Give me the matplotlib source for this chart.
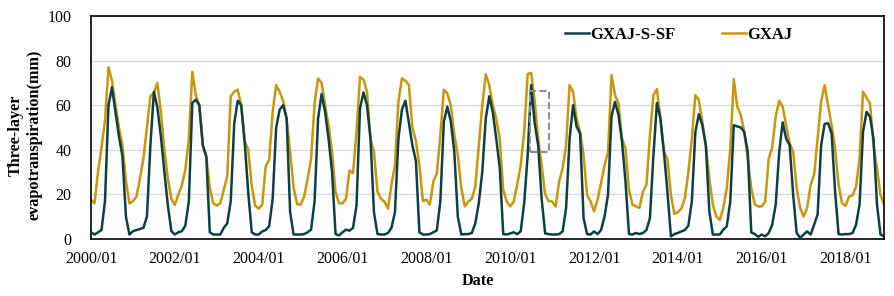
import numpy as np
import matplotlib
matplotlib.use("Agg")
import matplotlib.pyplot as plt
from matplotlib.patches import Rectangle

plt.rcParams['font.family'] = ['Liberation Serif', 'DejaVu Serif']

# monthly three-layer evapotranspiration (mm), 2000/01 - 2018/12
gxaj = [
    17.5, 16, 30, 41, 53, 77, 71, 60, 50, 42, 26, 16,            # 2000
    17, 19, 27, 36, 50, 64, 65.5, 70, 57, 40, 27, 18,            # 2001
    15.3, 20, 24, 31, 45, 75, 64.5, 60, 42, 37, 23, 16,          # 2002
    15, 16, 22, 28, 64, 66, 67, 60, 44, 40, 24, 15,              # 2003
    13.6, 15.4, 32.5, 35.5, 57, 69, 66, 62, 54, 39, 23, 15.6,    # 2004
    15.4, 19, 27, 36, 61, 72, 70, 60, 51, 39, 21, 16,            # 2005
    16, 18, 30.7, 29.5, 48, 72.7, 71.5, 66, 45, 39, 21.3, 18,    # 2006
    16.8, 13.6, 24.3, 33, 61.5, 72, 71, 69, 50, 44, 33, 17,      # 2007
    17.6, 15.4, 25.8, 29.5, 46.6, 67, 65.3, 60, 46.6, 37.7, 22.8, 14.6,  # 2008
    16.8, 18, 23.5, 42, 60, 73.8, 69, 60, 54, 45, 22, 16.8,      # 2009
    14.6, 16.8, 24.3, 33, 48, 74, 74.5, 62, 45, 33, 20, 17,      # 2010
    16.8, 14.6, 25.8, 31.7, 42, 69, 66, 54, 48, 37.7, 19.8, 16.8,  # 2011
    12.4, 17.6, 25, 33, 39, 73.5, 64.5, 60.8, 45, 40.7, 22, 15.4,  # 2012
    14.6, 13.9, 21.3, 24.3, 46.6, 64.5, 67.2, 54, 39, 36, 19.8, 11.2,  # 2013
    12, 13.6, 18.3, 30, 45, 64.5, 62.3, 52.6, 42, 27.3, 15.4, 10.1,  # 2014
    8.6, 13.9, 22.8, 40.7, 71.7, 59.3, 55.6, 48, 36, 22.8, 15.6, 14.6,  # 2015
    14.6, 16.8, 36, 41, 55, 62, 59.3, 51, 43, 39, 22.8, 13.9,    # 2016
    10.1, 13.9, 24.3, 28.8, 45, 61.5, 69, 60, 51, 40.7, 24.3, 16,  # 2017
    14.9, 19, 19.5, 23.5, 36, 66, 63.3, 60.8, 42, 31.7, 19.8, 15.4,  # 2018
]

gxaj_s_sf = [
    3, 2, 3, 4, 17, 60, 68, 57, 46, 37, 10, 2,                   # 2000
    3.5, 4, 4.5, 5, 10, 42, 66, 59, 46, 30, 15, 3.5,             # 2001
    2, 3, 3.5, 6, 17, 61, 62.5, 60, 42, 37, 3, 2,                # 2002
    2, 2, 5, 7, 17, 52, 62, 60, 43, 21, 3, 2,                    # 2003
    2, 3.4, 4, 5.7, 18, 50, 58, 60, 54, 12, 2, 2,                # 2004
    2, 2.2, 3, 4.2, 17, 54, 65, 57, 45, 30, 2.2, 1.6,            # 2005
    3, 4.2, 3.7, 5, 15, 58.6, 65.7, 60, 45, 12, 2.2, 2,          # 2006
    2, 2.7, 5, 12, 45, 58, 62, 52, 42, 35, 3, 2,                 # 2007
    2, 2.2, 3, 3.9, 17, 52.6, 59.3, 52.6, 39, 10, 2, 2.2,        # 2008
    2.2, 2.7, 7, 16, 30, 54, 64, 57, 45, 32, 2.2, 2,             # 2009
    2.5, 3, 2.2, 3.4, 16, 37.7, 69, 52, 42, 18, 2.5, 2.2,        # 2010
    2, 2, 2.2, 3.4, 13.9, 45, 60, 50.4, 47.4, 9.4, 2.2, 2,       # 2011
    3.4, 2.2, 4, 10, 20, 55, 61.5, 55.6, 43.7, 25.8, 2.2, 2,     # 2012
    2.7, 2.2, 2.7, 4, 9.4, 37.7, 61, 54, 39, 21.3, 1.2, 2.2,     # 2013
    2.7, 3.4, 4, 6, 17, 48, 56, 51, 42, 12.4, 2, 2,              # 2014
    2, 4.2, 5.7, 17, 51, 50.5, 50, 48, 39, 3, 2.2, 1,            # 2015
    2, 1.2, 2.7, 6.4, 15.4, 39, 52.3, 45, 42, 19.8, 2.7, 0.5,    # 2016
    2, 3.4, 2, 6.4, 11, 42, 51.6, 51.9, 47.4, 21.3, 2.2, 2,      # 2017
    2.2, 2.2, 2.7, 6.4, 15.4, 48, 57, 54.8, 45, 15.4, 2, 1.2,    # 2018
]

tick_labels = [f"{y}/01" for y in range(2000, 2019, 2)]

months = np.arange(len(gxaj))

fig = plt.figure(figsize=(8.95, 2.96), dpi=100)
ax = fig.add_axes([0.1017, 0.1926, 0.886, 0.7534])

ax.plot(months, gxaj_s_sf, color='#0d4045', lw=1.8, label='GXAJ-S-SF', zorder=3)
ax.plot(months, gxaj, color='#c9960c', lw=1.8, label='GXAJ', zorder=2)

# highlighted region
ax.add_patch(Rectangle((125.8, 39.2), 5.4, 27.1, fill=False, ls='--',
                       ec='#8c8c8c', lw=1.4, zorder=4))

ax.set_xlim(0, len(gxaj) - 1)
ax.set_ylim(0, 100)
ax.set_yticks(range(0, 101, 20))
ax.set_xticks(np.arange(0, len(gxaj), 24))
ax.set_xticklabels(tick_labels)
ax.tick_params(length=0, labelsize=11.5)
ax.tick_params(axis='y', pad=14)
ax.tick_params(axis='x', pad=8.5)
ax.yaxis.grid(True, color='#d9d9d9', lw=1)
ax.set_axisbelow(True)
for s in ax.spines.values():
    s.set_linewidth(1.2)
    s.set_color('black')

ax.set_xlabel('Date', fontsize=11.7, fontweight='bold')
ax.xaxis.set_label_coords(0.488, -0.152)
ax.set_ylabel('Three-layer\nevapotranspiration(mm)', fontsize=11.7,
              fontweight='bold', linespacing=1.2)
ax.yaxis.set_label_coords(-0.0618, 0.466)

ax.legend(loc='center', bbox_to_anchor=(0.7415, 0.915), ncol=2, frameon=False,
          prop={'weight': 'bold', 'size': 12}, handlelength=1.4,
          handletextpad=0.1, columnspacing=2.8)

fig.savefig('out.png', dpi=100)
